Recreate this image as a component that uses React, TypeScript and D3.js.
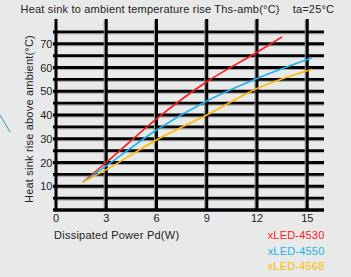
import { useEffect, useRef } from "react";
import * as d3 from "d3";

const xTicks = [0, 3, 6, 9, 12, 15];
const yTicks = [10, 20, 30, 40, 50, 60, 70];
const gridY = [5, 10, 15, 20, 25, 30, 35, 40, 45, 50, 55, 60, 65, 70, 75];

const models = ["xLED-4530", "xLED-4550", "xLED-4568"];
const colors = ["#ff1a1a", "#1ab2ef", "#ffbb00"];

const powerRed = [1.6, 3, 6, 9, 12, 13.5];
const riseRed = [11.7, 20, 38.4, 54, 66.4, 72.9];
const powerBlue = [1.6, 3, 6, 9, 12, 15.3];
const riseBlue = [11.7, 18.6, 33.7, 45.9, 55.4, 64.1];
const powerOrange = [1.6, 3, 6, 9, 12, 15.3];
const riseOrange = [11.7, 17, 29.5, 40, 51.2, 59.3];

const series = [
  { xs: powerRed, ys: riseRed },
  { xs: powerBlue, ys: riseBlue },
  { xs: powerOrange, ys: riseOrange },
];

function App() {
  const ref = useRef<SVGSVGElement>(null);

  useEffect(() => {
    const svg = d3.select(ref.current);
    svg.selectAll("*").remove();
    const W = 351;
    const H = 277;
    const font = "'Liberation Sans', Arial, sans-serif";

    svg.append("rect").attr("width", W).attr("height", H).attr("fill", "#e8e9e9");

    const x = d3.scaleLinear().domain([0, 16]).range([56, 324]);
    const y = d3.scaleLinear().domain([0, 80]).range([210, 20]);

    // stray decoration line at left edge
    svg.append("line")
      .attr("x1", 0).attr("y1", 115).attr("x2", 10).attr("y2", 132)
      .attr("stroke", "#3a8fb2").attr("stroke-width", 1);

    const grid = svg.append("g");
    // horizontal lines
    grid.selectAll(".hs")
      .data(gridY)
      .enter()
      .append("line")
      .attr("x1", 53).attr("x2", x(16))
      .attr("y1", (d) => y(d) + 2).attr("y2", (d) => y(d) + 2)
      .attr("stroke", "#a8a8a8").attr("stroke-width", 1);
    grid.selectAll(".h")
      .data(gridY)
      .enter()
      .append("line")
      .attr("x1", 53).attr("x2", x(16))
      .attr("y1", (d) => y(d)).attr("y2", (d) => y(d))
      .attr("stroke", "#000").attr("stroke-width", (d) => (d % 10 === 0 ? 3.2 : 2.6));
    // vertical lines
    grid.selectAll(".vs")
      .data(xTicks.slice(1))
      .enter()
      .append("line")
      .attr("x1", (d) => x(d) - 2).attr("x2", (d) => x(d) - 2)
      .attr("y1", y(80)).attr("y2", y(0))
      .attr("stroke", "#9a9a9a").attr("stroke-width", 1.2);
    grid.selectAll(".v")
      .data(xTicks)
      .enter()
      .append("line")
      .attr("x1", (d) => x(d)).attr("x2", (d) => x(d))
      .attr("y1", y(80) - 1).attr("y2", y(0))
      .attr("stroke", "#000").attr("stroke-width", 3);
    // x axis
    grid.append("line")
      .attr("x1", 53).attr("x2", x(16))
      .attr("y1", y(0)).attr("y2", y(0))
      .attr("stroke", "#000").attr("stroke-width", 3.5);

    const line = d3.line<[number, number]>()
      .x((d) => x(d[0]))
      .y((d) => y(d[1]))
      .curve(d3.curveMonotoneX);

    series.forEach((s, i) => {
      svg.append("path")
        .datum(s.xs.map((v, j) => [v, s.ys[j]] as [number, number]))
        .attr("d", line)
        .attr("fill", "none")
        .attr("stroke", colors[i])
        .attr("stroke-width", 1.6);
    });

    const txt = svg.append("g").attr("font-family", font).attr("font-size", 11).attr("fill", "#222");

    txt.selectAll(".yt")
      .data(yTicks)
      .enter()
      .append("text")
      .attr("x", 52.5)
      .attr("y", (d) => y(d) + 4)
      .attr("text-anchor", "end")
      .text((d) => d);

    txt.selectAll(".xt")
      .data(xTicks)
      .enter()
      .append("text")
      .attr("x", (d) => x(d))
      .attr("y", 222)
      .attr("text-anchor", "middle")
      .text((d) => d);

    txt.append("text")
      .attr("x", 20.5).attr("y", 13)
      .attr("letter-spacing", 0.2)
      .attr("xml:space", "preserve")
      .text("Heat sink to ambient temperature rise Ths-amb(°C)    ta=25°C");

    txt.append("text")
      .attr("transform", "translate(33,119) rotate(-90)")
      .attr("text-anchor", "middle")
      .attr("letter-spacing", 0.2)
      .text("Heat sink rise above ambient(°C)");

    txt.append("text")
      .attr("x", 54).attr("y", 238.5)
      .attr("letter-spacing", 0.25)
      .text("Dissipated Power Pd(W)");

    txt.selectAll(".lg")
      .data(models)
      .enter()
      .append("text")
      .attr("x", 324.5)
      .attr("y", (d, i) => 239 + i * 15.5)
      .attr("text-anchor", "end")
      .attr("fill", (d, i) => colors[i])
      .attr("letter-spacing", 0.2)
      .text((d) => d);
  }, []);

  return (
    <svg
      ref={ref}
      width={351}
      height={277}
      style={{ position: "absolute", left: 0, top: 0 }}
    ></svg>
  );
}

export default App;
